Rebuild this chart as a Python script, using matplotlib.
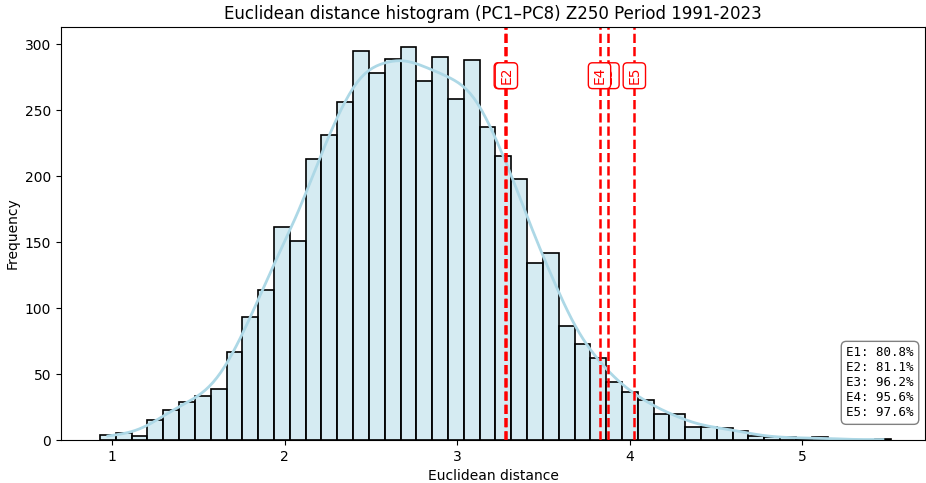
import numpy as np
import seaborn as sns
from matplotlib import pyplot as plt

# histogram of euclidean distances, 50 equal bins
bin_lo, bin_hi, n_bins = 0.93, 5.515, 50
counts = [4, 5, 3, 15, 23, 29, 33, 39, 67, 93,
          114, 161, 151, 213, 231, 256, 295, 278, 289, 298,
          272, 290, 258, 288, 237, 215, 198, 134, 142, 86,
          73, 62, 44, 36, 30, 20, 20, 10, 10, 9,
          7, 3, 2, 2, 1, 2, 1, 0, 0, 1]

# threshold lines
e_names = ["E1", "E2", "E3", "E4", "E5"]
e_values = [3.28, 3.286, 3.875, 3.826, 4.028]
e_percent = [80.8, 81.1, 96.2, 95.6, 97.6]

edges = np.linspace(bin_lo, bin_hi, n_bins + 1)
centers = (edges[:-1] + edges[1:]) / 2
dist = np.repeat(centers, counts)

fig = plt.figure(figsize=(9.26, 4.83), dpi=100)
ax = fig.add_subplot(111)
fig.subplots_adjust(left=61 / 926, right=925 / 926, top=1 - 27 / 483, bottom=1 - 440 / 483)

sns.histplot(x=dist, bins=edges, kde=True, color="lightblue", edgecolor="black",
             alpha=0.5, linewidth=1.2, line_kws={"linewidth": 2}, ax=ax)

for name, val in zip(e_names, e_values):
    ax.axvline(val, color="red", linestyle="--", linewidth=1.8)
    ax.text(val, 276, name, rotation=90, color="red", fontsize=10, ha="center", va="center",
            bbox=dict(boxstyle="round,pad=0.3", facecolor="white", edgecolor="red"))

summary = "\n".join(f"{n}: {p:.1f}%" for n, p in zip(e_names, e_percent))
ax.text(0.987, 0.05, summary, transform=ax.transAxes, ha="right", va="bottom",
        family="monospace", fontsize=9,
        bbox=dict(boxstyle="round,pad=0.4", facecolor="white", edgecolor="gray"))

ax.set_xlim(0.704, 5.713)
ax.set_title("Euclidean distance histogram (PC1–PC8) Z250 Period 1991-2023", fontsize=12)
ax.set_xlabel("Euclidean distance")
ax.set_ylabel("Frequency")

fig.savefig("out.png", dpi=100)
